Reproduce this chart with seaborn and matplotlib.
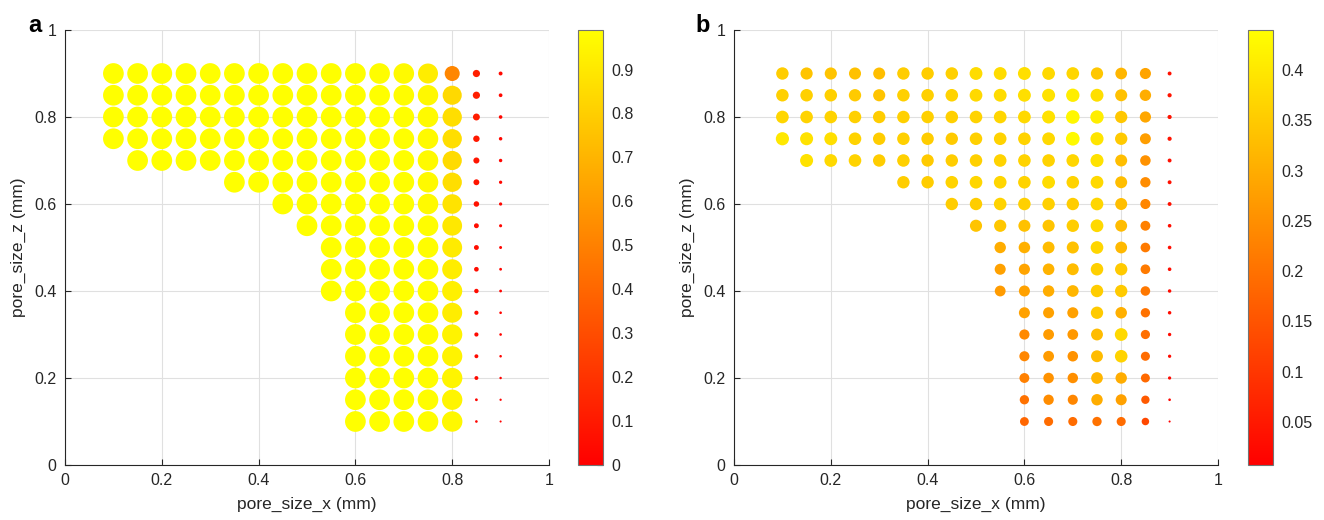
import numpy as np
import pandas as pd
import matplotlib
matplotlib.use("Agg")
import matplotlib.pyplot as plt
import seaborn as sns
from matplotlib.ticker import FuncFormatter

# ---------------- data ----------------
z_rows = [0.90, 0.85, 0.80, 0.75, 0.70, 0.65, 0.60, 0.55, 0.50, 0.45, 0.40,
          0.35, 0.30, 0.25, 0.20, 0.15, 0.10]
x_start = [0.10, 0.10, 0.10, 0.10, 0.15, 0.35, 0.45, 0.50, 0.55, 0.55, 0.55,
           0.60, 0.60, 0.60, 0.60, 0.60, 0.60]

# panel a values, each row runs from x_start to 0.9 in steps of 0.05
a_z090 = [0.99, 0.99, 0.99, 0.99, 0.99, 0.99, 0.99, 0.99, 0.99, 0.99, 0.99, 0.98, 0.97, 0.92, 0.52, 0.12, 0.035]
a_z085 = [0.99, 0.99, 0.99, 0.99, 0.99, 0.99, 0.99, 0.99, 0.99, 0.99, 0.99, 0.99, 0.98, 0.96, 0.84, 0.12, 0.032]
a_z080 = [0.99, 0.99, 0.99, 0.99, 0.99, 0.99, 0.99, 0.99, 0.99, 0.99, 0.99, 0.99, 0.99, 0.97, 0.86, 0.11, 0.030]
a_z075 = [0.99, 0.99, 0.99, 0.99, 0.99, 0.99, 0.99, 0.99, 0.99, 0.99, 0.99, 0.99, 0.99, 0.97, 0.86, 0.095, 0.028]
a_z070 = [0.99, 0.99, 0.99, 0.99, 0.99, 0.99, 0.99, 0.99, 0.99, 0.99, 0.99, 0.99, 0.97, 0.85, 0.085, 0.027]
a_z065 = [0.99, 0.99, 0.99, 0.99, 0.99, 0.99, 0.99, 0.99, 0.97, 0.86, 0.080, 0.025]
a_z060 = [0.99, 0.99, 0.99, 0.99, 0.99, 0.99, 0.97, 0.88, 0.070, 0.024]
a_z055 = [0.99, 0.99, 0.99, 0.99, 0.99, 0.98, 0.90, 0.055, 0.022]
a_z050 = [0.99, 0.99, 0.99, 0.99, 0.98, 0.91, 0.055, 0.020]
a_z045 = [0.99, 0.99, 0.99, 0.99, 0.98, 0.92, 0.050, 0.018]
a_z040 = [0.99, 0.99, 0.99, 0.99, 0.98, 0.93, 0.045, 0.018]
a_z035 = [0.99, 0.99, 0.99, 0.98, 0.92, 0.040, 0.016]
a_z030 = [0.99, 0.99, 0.99, 0.98, 0.94, 0.040, 0.016]
a_z025 = [0.99, 0.99, 0.99, 0.98, 0.94, 0.035, 0.015]
a_z020 = [0.99, 0.99, 0.99, 0.98, 0.95, 0.035, 0.014]
a_z015 = [0.99, 0.99, 0.99, 0.98, 0.95, 0.018, 0.012]
a_z010 = [0.99, 0.99, 0.99, 0.98, 0.96, 0.016, 0.010]

# panel b values
b_z090 = [0.355, 0.34, 0.34, 0.335, 0.33, 0.355, 0.355, 0.36, 0.38, 0.38, 0.385, 0.375, 0.37, 0.345, 0.315, 0.285, 0.035]
b_z085 = [0.36, 0.36, 0.36, 0.35, 0.34, 0.36, 0.36, 0.365, 0.375, 0.38, 0.385, 0.39, 0.41, 0.385, 0.335, 0.30, 0.04]
b_z080 = [0.37, 0.365, 0.365, 0.36, 0.355, 0.36, 0.36, 0.36, 0.365, 0.37, 0.375, 0.39, 0.425, 0.41, 0.345, 0.29, 0.04]
b_z075 = [0.40, 0.39, 0.385, 0.365, 0.355, 0.36, 0.355, 0.35, 0.36, 0.365, 0.365, 0.375, 0.43, 0.395, 0.35, 0.275, 0.04]
b_z070 = [0.39, 0.375, 0.365, 0.355, 0.36, 0.35, 0.355, 0.36, 0.365, 0.365, 0.365, 0.37, 0.39, 0.33, 0.255, 0.035]
b_z065 = [0.355, 0.355, 0.365, 0.37, 0.37, 0.365, 0.38, 0.365, 0.375, 0.33, 0.245, 0.035]
b_z060 = [0.355, 0.355, 0.365, 0.36, 0.36, 0.355, 0.37, 0.33, 0.235, 0.035]
b_z055 = [0.34, 0.345, 0.335, 0.34, 0.355, 0.375, 0.325, 0.225, 0.03]
b_z050 = [0.30, 0.305, 0.325, 0.335, 0.37, 0.32, 0.215, 0.03]
b_z045 = [0.28, 0.285, 0.31, 0.325, 0.36, 0.35, 0.215, 0.03]
b_z040 = [0.27, 0.28, 0.30, 0.315, 0.355, 0.35, 0.21, 0.028]
b_z035 = [0.28, 0.28, 0.28, 0.35, 0.305, 0.20, 0.028]
b_z030 = [0.24, 0.27, 0.265, 0.325, 0.375, 0.195, 0.026]
b_z025 = [0.235, 0.27, 0.255, 0.325, 0.365, 0.19, 0.025]
b_z020 = [0.225, 0.255, 0.25, 0.315, 0.30, 0.185, 0.024]
b_z015 = [0.20, 0.245, 0.235, 0.30, 0.28, 0.16, 0.016]
b_z010 = [0.18, 0.19, 0.19, 0.20, 0.19, 0.13, 0.010]

rows_a = [a_z090, a_z085, a_z080, a_z075, a_z070, a_z065, a_z060, a_z055, a_z050,
          a_z045, a_z040, a_z035, a_z030, a_z025, a_z020, a_z015, a_z010]
rows_b = [b_z090, b_z085, b_z080, b_z075, b_z070, b_z065, b_z060, b_z055, b_z050,
          b_z045, b_z040, b_z035, b_z030, b_z025, b_z020, b_z015, b_z010]

clim_a = (0.0, 0.99)
clim_b = (0.007, 0.44)
ticks_a = [0, 0.1, 0.2, 0.3, 0.4, 0.5, 0.6, 0.7, 0.8, 0.9]
ticks_b = [0.05, 0.1, 0.15, 0.2, 0.25, 0.3, 0.35, 0.4]
axis_ticks = [0, 0.2, 0.4, 0.6, 0.8, 1]


def build_frame(rows):
    recs = []
    for z, xs, vals in zip(z_rows, x_start, rows):
        for i, v in enumerate(vals):
            recs.append({"x": round(xs + 0.05 * i, 4), "z": z, "v": v})
    return pd.DataFrame(recs)


df_a = build_frame(rows_a)
df_b = build_frame(rows_b)

# ---------------- style ----------------
sns.set_theme(style="white")
plt.rcParams["font.family"] = ["Liberation Sans", "DejaVu Sans"]
dark = (0.15, 0.15, 0.15)

W, H = 1324, 520
fig = plt.figure(figsize=(W / 100, H / 100), dpi=100)


def px_rect(l, t, r, b):
    return [l / W, 1 - b / H, (r - l) / W, (b - t) / H]


fmt = FuncFormatter(lambda v, p: "%g" % round(v, 4))
K = 225.0  # area in pt^2 per unit value

panels = [
    (df_a, clim_a, ticks_a, (65, 30, 549, 465), (578, 30, 603, 465), "a", 35),
    (df_b, clim_b, ticks_b, (734, 30, 1218, 465), (1248, 30, 1273, 465), "b", 703),
]

for df, clim, cticks, axr, cbr, letter, lx in panels:
    ax = fig.add_axes(px_rect(*axr))
    sns.scatterplot(data=df, x="x", y="z", hue="v", size="v", palette="autumn",
                    hue_norm=clim, sizes=(0, K), size_norm=(0, 1),
                    linewidth=0, legend=False, ax=ax, zorder=3)
    ax.set_xlim(0, 1)
    ax.set_ylim(0, 1)
    ax.set_xticks(axis_ticks)
    ax.set_yticks(axis_ticks)
    ax.xaxis.set_major_formatter(fmt)
    ax.yaxis.set_major_formatter(fmt)
    ax.grid(True, color=(0.88, 0.88, 0.88), linewidth=0.8)
    ax.set_axisbelow(True)
    for s in ["top", "right"]:
        ax.spines[s].set_visible(False)
    for s in ["left", "bottom"]:
        ax.spines[s].set_color(dark)
        ax.spines[s].set_linewidth(0.8)
    ax.tick_params(direction="in", length=4, width=0.8, colors=dark,
                   labelsize=11.5, left=True, bottom=True, pad=6)
    ax.set_xlabel("pore_size_x (mm)", fontsize=12.5, color=dark, labelpad=6)
    ax.set_ylabel("pore_size_z (mm)", fontsize=12.5, color=dark, labelpad=6)

    cax = fig.add_axes(px_rect(*cbr))
    sm = plt.cm.ScalarMappable(norm=plt.Normalize(*clim), cmap="autumn")
    cb = fig.colorbar(sm, cax=cax)
    cb.set_ticks(cticks)
    cb.ax.yaxis.set_major_formatter(fmt)
    cb.outline.set_edgecolor((0.45, 0.45, 0.45))
    cb.outline.set_linewidth(0.8)
    cb.ax.tick_params(direction="in", length=4, width=0.8, colors=dark,
                      labelsize=11.5, pad=6)

    fig.text(lx / W, 1 - 25 / H, letter, fontsize=17, fontweight="bold",
             ha="center", va="center", color="black")

fig.savefig("out.png", dpi=100)
